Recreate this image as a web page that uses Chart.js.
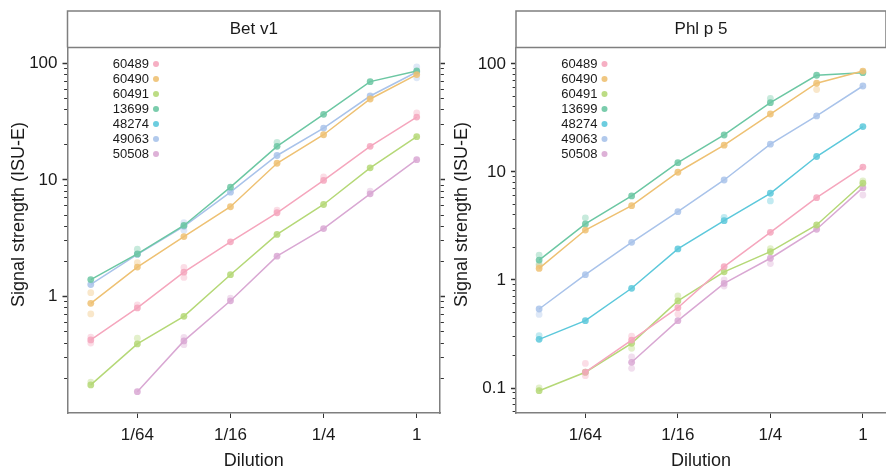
<!DOCTYPE html>
<html>
<head>
<meta charset="utf-8">
<script src="https://cdn.jsdelivr.net/npm/chart.js@4.4.1/dist/chart.umd.min.js"></script>
<style>
  html, body { margin: 0; padding: 0; background: #fff; overflow: hidden; }
  body { width: 886px; height: 470px; position: relative; }
  canvas { position: absolute; top: 0; }
  #c1 { left: 0; }
  #c2 { left: 443px; }
</style>
</head>
<body>
<canvas id="c1" width="450" height="470" style="width:450px;height:470px"></canvas>
<canvas id="c2" width="447" height="470" style="width:447px;height:470px"></canvas>
<script>
// ---------- data ----------
const dilutions = ["1/128", "1/64", "1/32", "1/16", "1/8", "1/4", "1/2", "1"];
const dilutionTickLabels = ["1/64", "1/16", "1/4", "1"];
const sampleIds = ["60489", "60490", "60491", "13699", "48274", "49063", "50508"];
const panelTitles = ["Bet v1", "Phl p 5"];
const yTitle = "Signal strength (ISU-E)";
const xTitle = "Dilution";

// Bet v1 (mean signal, ISU-E)
const bet_60489 = [0.425, 0.80, 1.62, 2.95, 5.23, 9.9, 19.4, 34.6];
const bet_60490 = [0.876, 1.79, 3.27, 5.89, 13.9, 24.4, 49.4, 80];
const bet_60491 = [0.175, 0.393, 0.678, 1.54, 3.41, 6.16, 12.7, 23.5];
const bet_13699 = [1.40, 2.32, 4.07, 8.67, 19.4, 36.5, 69.6, 85.9];
const bet_48274 = [null, null, null, null, null, null, null, null];
const bet_49063 = [1.27, 2.30, 4.0, 7.86, 16.2, 27.8, 52.4, 84.2];
const bet_50508 = [null, 0.153, 0.417, 0.92, 2.22, 3.83, 7.6, 14.9];

// Phl p 5 (mean signal, ISU-E)
const phl_60489 = [null, 0.14, 0.278, 0.554, 1.33, 2.76, 5.78, 11.1];
const phl_60490 = [1.28, 2.9, 4.88, 9.94, 17.7, 34.4, 66.3, 86];
const phl_60491 = [0.0944, 0.14, 0.259, 0.64, 1.19, 1.83, 3.23, 7.86];
const phl_13699 = [1.53, 3.30, 6.0, 12.2, 22, 43.8, 78.6, 83];
const phl_48274 = [0.282, 0.42, 0.838, 1.94, 3.54, 6.35, 13.9, 26.3];
const phl_49063 = [0.539, 1.12, 2.23, 4.29, 8.43, 18.1, 33, 62.5];
const phl_50508 = [null, null, 0.173, 0.42, 0.93, 1.59, 2.95, 7.16];

// individual replicate readings that stand apart from the means: [sample, dilution, value]
const bet_replicates = [
  ["60490", "1/128", 1.08], ["60490", "1/128", 0.71], ["60489", "1/128", 0.45], ["60489", "1/128", 0.40],
  ["60491", "1/128", 0.185], ["13699", "1/64", 2.55], ["60490", "1/64", 1.95], ["60489", "1/64", 0.85],
  ["60491", "1/64", 0.44], ["60489", "1/32", 1.46], ["60489", "1/32", 1.78], ["49063", "1/32", 4.3],
  ["49063", "1/32", 3.7], ["50508", "1/32", 0.387], ["50508", "1/32", 0.447], ["50508", "1/16", 0.97],
  ["13699", "1/8", 21], ["60489", "1/8", 5.5], ["60489", "1/4", 10.6], ["50508", "1/2", 8.0],
  ["49063", "1", 93], ["49063", "1", 75], ["60489", "1", 37.5]
];
const phl_replicates = [
  ["13699", "1/128", 1.70], ["13699", "1/128", 1.40], ["60490", "1/128", 1.35], ["49063", "1/128", 0.48],
  ["48274", "1/128", 0.306], ["60491", "1/128", 0.10], ["13699", "1/64", 3.76], ["60489", "1/64", 0.169],
  ["60489", "1/64", 0.130], ["60491", "1/32", 0.233], ["60489", "1/32", 0.302], ["50508", "1/32", 0.194],
  ["50508", "1/32", 0.152], ["60491", "1/16", 0.713], ["60489", "1/16", 0.484], ["50508", "1/8", 1.0],
  ["50508", "1/8", 0.88], ["48274", "1/8", 3.8], ["60491", "1/4", 1.95], ["50508", "1/4", 1.42],
  ["13699", "1/4", 48], ["48274", "1/4", 5.4], ["60490", "1/2", 58], ["50508", "1", 6.12], ["60491", "1", 8.27]
];

// ---------- styles ----------
const sampleColors = ["#F5A6BD", "#EEC173", "#B5D877", "#6CC7A3", "#5CC8DB", "#A9C3EA", "#D9A8D3"];
const FONT = "'Liberation Sans', Arial, Helvetica, sans-serif";
const TEXT = "#1a1a1a";
const FRAME = "#7f7f7f";
const TICK = "#333333";

function rgba(hex, a) {
  const n = parseInt(hex.slice(1), 16);
  return `rgba(${(n >> 16) & 255},${(n >> 8) & 255},${n & 255},${a})`;
}
function isPow10(v) {
  const l = Math.log10(v);
  return Math.abs(l - Math.round(l)) < 1e-9;
}
function logTicks(min, max) {
  const out = [];
  for (let e = -3; e <= 3; e++) {
    for (let m = 1; m <= 9; m++) {
      const v = Number((m * Math.pow(10, e)).toPrecision(6));
      if (v >= min && v <= max) out.push(v);
    }
  }
  return out;
}

const stripPlugin = {
  id: 'strip',
  afterDraw(chart, args, opts) {
    const {ctx, chartArea} = chart;
    ctx.save();
    ctx.strokeStyle = FRAME;
    ctx.lineWidth = 1.5;
    ctx.beginPath();
    ctx.moveTo(chartArea.left, chartArea.top);
    ctx.lineTo(chartArea.left, opts.top);
    ctx.lineTo(chartArea.right, opts.top);
    ctx.lineTo(chartArea.right, chartArea.top);
    ctx.moveTo(chartArea.left, chartArea.top);
    ctx.lineTo(chartArea.right, chartArea.top);
    ctx.stroke();
    ctx.fillStyle = TEXT;
    ctx.font = `17px ${FONT}`;
    ctx.textAlign = 'center';
    ctx.textBaseline = 'middle';
    ctx.fillText(opts.text, (chartArea.left + opts.textRight) / 2, (opts.top + chartArea.top) / 2 + 0.5);
    // y-axis title, centred on the whole panel (strip + plot)
    ctx.translate(opts.yTitleX, (opts.top + chartArea.bottom) / 2 + 2.5);
    ctx.rotate(-Math.PI / 2);
    ctx.font = `18px ${FONT}`;
    ctx.fillText(yTitle, 0, 0);
    ctx.restore();
  }
};

const keyPlugin = {
  id: 'key',
  afterDraw(chart, args, opts) {
    const {ctx, chartArea} = chart;
    ctx.save();
    ctx.font = `13px ${FONT}`;
    ctx.textAlign = 'right';
    ctx.textBaseline = 'middle';
    const xr = chartArea.left + opts.dx;
    chart.data.datasets.filter(d => d.inKey).forEach((d, i) => {
      const y = chartArea.top + opts.dy + i * 15;
      ctx.fillStyle = TEXT;
      ctx.fillText(d.label, xr, y);
      ctx.fillStyle = d.keyColor;
      ctx.beginPath();
      ctx.arc(xr + 7, y, 3, 0, Math.PI * 2);
      ctx.fill();
    });
    ctx.restore();
  }
};

function buildChart(canvasId, title, means, replicates, cfg) {
  const datasets = [];
  sampleIds.forEach((id, i) => {
    datasets.push({
      label: id,
      inKey: true,
      keyColor: rgba(sampleColors[i], 0.9),
      data: means[i],
      borderColor: sampleColors[i],
      backgroundColor: rgba(sampleColors[i], 0.85),
      borderWidth: 1.5,
      pointRadius: 3.4,
      pointBorderWidth: 0,
      tension: 0,
      order: 0
    });
  });
  sampleIds.forEach((id, i) => {
    datasets.push({
      label: '',
      inKey: false,
      data: replicates.filter(r => r[0] === id).map(r => ({x: r[1], y: r[2]})),
      showLine: false,
      borderColor: 'rgba(0,0,0,0)',
      backgroundColor: rgba(sampleColors[i], 0.38),
      pointRadius: 3.4,
      pointBorderWidth: 0,
      order: 1
    });
  });

  const yTicks = logTicks(cfg.ymin, cfg.ymax);
  const yAxis = (pos) => ({
    type: 'logarithmic',
    position: pos,
    min: cfg.ymin,
    max: cfg.ymax,
    display: true,
    afterBuildTicks: (axis) => { axis.ticks = yTicks.map(v => ({value: v})); },
    afterFit: (s) => { s.width = pos === 'left' ? cfg.yWidth : 10; },
    border: {display: true, color: FRAME, width: 1.5},
    grid: {
      drawOnChartArea: false,
      drawTicks: true,
      tickLength: 5,
      tickColor: TICK,
      tickWidth: (c) => (c.tick && isPow10(c.tick.value)) ? 1.5 : 1,
      tickBorderDash: (c) => (c.tick && isPow10(c.tick.value)) ? [] : (pos === 'left' ? [0, 1.6, 3.4, 100] : [3.4, 100])
    },
    ticks: {
      display: pos === 'left',
      autoSkip: false,
      padding: 5,
      color: TEXT,
      font: {family: FONT, size: 17},
      callback: (v) => isPow10(v) ? String(v) : ''
    },
    title: {display: false}
  });

  const scales = {
    x: {
      type: 'category',
      labels: dilutions,
      offset: true,
      afterFit: (s) => { s.height = 57; },
      border: {display: true, color: FRAME, width: 1.5},
      grid: {
        drawOnChartArea: false,
        offset: false,
        tickLength: 5,
        tickWidth: 1,
        tickColor: (c) => dilutionTickLabels.includes(dilutions[c.index]) ? TICK : 'rgba(0,0,0,0)'
      },
      ticks: {
        autoSkip: false,
        maxRotation: 0,
        minRotation: 0,
        padding: 7,
        color: TEXT,
        font: {family: FONT, size: 17},
        callback: (v, i) => dilutionTickLabels.includes(dilutions[i]) ? dilutions[i] : ''
      },
      title: {
        display: true,
        text: xTitle,
        color: TEXT,
        font: {family: FONT, size: 18, lineHeight: 1},
        padding: {top: 0, bottom: 0}
      }
    },
    y: yAxis('left')
  };
  if (cfg.rightAxis) scales.y2 = yAxis('right');

  return new Chart(document.getElementById(canvasId), {
    type: 'line',
    data: {datasets},
    options: {
      responsive: false,
      animation: false,
      events: [],
      devicePixelRatio: 1,
      layout: {padding: {top: 47.5, right: cfg.padRight, left: 0, bottom: 0}},
      plugins: {
        legend: {display: false},
        tooltip: {enabled: false},
        strip: {text: title, top: 11, textRight: cfg.stripRight, yTitleX: 19.5},
        key: {dx: 81.5, dy: 16.5}
      },
      scales
    },
    plugins: [stripPlugin, keyPlugin]
  });
}

buildChart('c1', panelTitles[0],
  [bet_60489, bet_60490, bet_60491, bet_13699, bet_48274, bet_49063, bet_50508],
  bet_replicates,
  {ymin: 0.1005, ymax: 136.5, yWidth: 67.5, padRight: 0, rightAxis: true, stripRight: 440});

buildChart('c2', panelTitles[1],
  [phl_60489, phl_60490, phl_60491, phl_13699, phl_48274, phl_49063, phl_50508],
  phl_replicates,
  {ymin: 0.0587, ymax: 142, yWidth: 73, padRight: 2, rightAxis: false, stripRight: 886 - 443});
</script>
</body>
</html>
